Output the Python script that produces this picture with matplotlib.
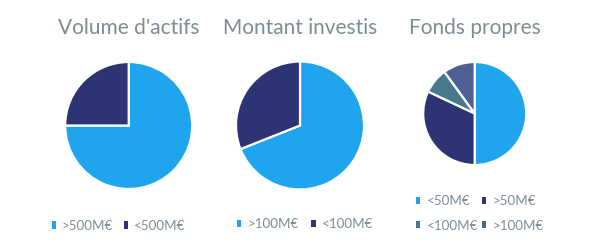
import matplotlib
matplotlib.use("Agg")
import matplotlib.pyplot as plt
from matplotlib.patches import Patch

plt.rcParams["font.family"] = ["Lato", "DejaVu Sans"]

W, H = 600, 247

# data (percent shares)
titles = ["Volume d'actifs", "Montant investis", "Fonds propres"]
actifs_labels = [">500M€", "<500M€"]
actifs_values = [75, 25]
investis_labels = [">100M€", "<100M€"]
investis_values = [69, 31]
fonds_labels = ["<50M€", ">50M€", "<100M€", ">100M€"]
fonds_values = [50, 32, 8, 10]

colors = ["#1EA5EE", "#2E3374", "#467A8B", "#4E5F93"]
title_color = "#7B8C96"
text_color = "#7F8C95"

fig = plt.figure(figsize=(W / 100, H / 100), dpi=100)


def px_axes(cx, cy, r):
    return fig.add_axes([(cx - r) / W, (H - cy - r) / H, 2 * r / W, 2 * r / H])


def draw_pie(ax, values):
    wedges, _ = ax.pie(values, colors=colors[:len(values)], startangle=90,
                       counterclock=False,
                       wedgeprops=dict(edgecolor="white", linewidth=1.6))
    ax.set_xlim(-1, 1)
    ax.set_ylim(-1, 1)
    return wedges


def draw_legend(ax, labels, x, y, colspace, order=None):
    handles = [Patch(facecolor=colors[i], edgecolor="none") for i in range(len(labels))]
    labs = list(labels)
    if order:
        handles = [handles[i] for i in order]
        labs = [labs[i] for i in order]
    ax.legend(handles, labs, ncol=2, loc="center left",
              bbox_to_anchor=(x / W, 1 - y / H), bbox_transform=fig.transFigure,
              frameon=False, fontsize=9.6, labelcolor=text_color,
              handlelength=0.33, handleheight=0.45, handletextpad=0.45,
              columnspacing=colspace, borderpad=0, borderaxespad=0,
              labelspacing=0.95)


ax1 = px_axes(128.7, 125.5, 63.5)
draw_pie(ax1, actifs_values)
draw_legend(ax1, actifs_labels, 51.5, 225.7, 0.8)

ax2 = px_axes(300, 125.5, 64)
draw_pie(ax2, investis_values)
draw_legend(ax2, investis_labels, 237, 224, 0.95)

ax3 = px_axes(474.7, 113.5, 51.5)
draw_pie(ax3, fonds_values)
draw_legend(ax3, fonds_labels, 416, 213.3, 0.3, order=[0, 2, 1, 3])

for t, x in zip(titles, [58, 223, 409]):
    fig.text(x / W, 1 - 34 / H, t, fontsize=15, color=title_color,
             ha="left", va="baseline")

fig.savefig("out.png", dpi=100)
